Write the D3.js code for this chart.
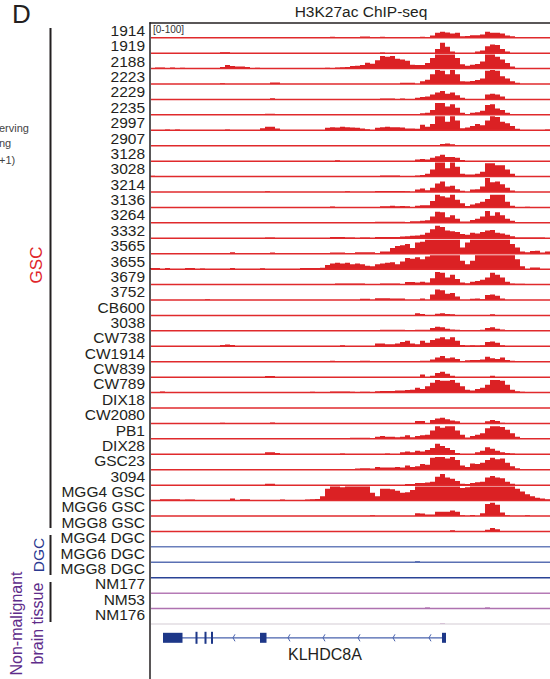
<!DOCTYPE html>
<html>
<head>
<meta charset="utf-8">
<script src="https://cdn.jsdelivr.net/npm/d3@7/dist/d3.min.js"></script>
<style>
body { margin: 0; background: #fff; }
svg { display: block; font-family: "Liberation Sans", Arial, sans-serif; }
</style>
</head>
<body>
<svg width="550" height="679"></svg>
<script>
//Track labels, top to bottom.
var trackLabels = ['1914', '1919', '2188', '2223', '2229', '2235', '2997', '2907', '3128', '3028',
  '3214', '3136', '3264', '3332', '3565', '3655', '3679', '3752', 'CB600', '3038',
  'CW738', 'CW1914', 'CW839', 'CW789', 'DIX18', 'CW2080', 'PB1', 'DIX28', 'GSC23', '3094',
  'MGG4 GSC', 'MGG6 GSC', 'MGG8 GSC', 'MGG4 DGC', 'MGG6 DGC', 'MGG8 DGC', 'NM177', 'NM53', 'NM176'];

//Signal per track, 80 bins across the locus, scale [0-100].
var t1914 = [0,0,0,0,0,0,0,0,0,0, 0,0,0,0,0,0,0,0,0,0, 0,0,0,0,0,0,0,0,0,0, 0,0,0,0,0,0,7,0,0,0,
  0,0,9,9,0,0,7,0,0,0, 0,0,0,0,7,5,15,35,42,38, 30,35,10,12,18,18,22,42,35,35, 30,15,10,0,0,0,0,0,0,0];
var t1919 = [0,0,0,0,0,0,0,0,0,0, 0,0,0,0,7,7,0,0,0,0, 0,0,0,0,0,0,0,0,0,0, 0,0,0,0,0,0,0,0,0,0,
  0,0,0,0,0,0,5,0,0,0, 0,0,0,0,0,0,0,30,75,45, 12,0,0,0,0,12,18,50,62,58, 30,12,0,0,0,0,0,0,0,0];
var t2188 = [0,7,7,0,7,0,5,0,0,0, 0,0,0,0,12,25,18,14,14,12, 0,6,0,0,0,0,0,0,0,0, 0,0,0,0,0,5,0,8,10,12,
  18,20,25,42,35,60,90,85,90,70, 65,55,28,25,25,40,75,100,100,100, 100,75,30,20,28,32,50,100,100,85, 65,40,15,0,0,0,0,0,0,0];
var t2223 = [0,0,0,0,0,0,0,0,0,0, 0,0,0,0,6,0,0,0,0,0, 0,0,0,0,10,10,0,0,0,0, 0,0,0,0,0,0,0,0,0,0,
  0,0,0,0,0,0,0,0,0,0, 8,8,8,0,20,30,70,100,95,70, 100,70,20,18,22,28,40,95,100,95, 55,40,20,8,0,0,0,0,0,0];
var t2229 = [0,0,0,0,0,0,0,0,0,0, 0,0,0,0,0,0,0,0,0,0, 0,0,0,0,8,0,0,0,0,0, 0,0,0,0,0,0,0,0,0,0,
  0,0,0,0,0,0,7,7,7,0, 7,0,0,12,18,20,35,50,60,40, 50,30,12,0,0,0,0,35,40,35, 20,0,0,0,0,0,0,0,0,0];
var t2235 = [0,0,0,0,0,0,0,0,0,0, 0,0,0,0,0,0,0,0,0,0, 0,0,0,8,8,0,0,0,0,0, 0,0,0,0,0,0,0,0,0,0,
  0,0,0,0,0,0,0,0,0,0, 0,0,0,0,12,15,35,85,85,60, 75,50,15,0,15,18,30,70,75,45, 35,15,0,0,0,0,0,0,0,0];
var t2997 = [0,0,0,5,0,5,0,0,0,0, 0,0,0,0,0,5,0,0,0,0, 0,0,15,25,25,12,0,0,0,0, 0,0,0,0,0,18,22,20,25,22,
  20,18,12,8,0,18,22,25,22,22, 20,12,12,10,40,25,45,100,100,60, 100,70,15,20,30,45,35,70,100,95, 60,50,30,10,0,0,0,0,0,6];
var t2907 = [0,0,0,0,0,0,0,0,0,0, 0,0,0,0,0,0,0,0,0,0, 0,0,0,0,0,0,0,0,0,0, 0,0,0,0,0,0,0,0,0,0,
  0,0,0,0,0,0,0,0,0,0, 0,0,0,0,0,0,0,0,12,15, 10,0,0,0,0,0,0,0,0,0, 0,0,0,0,0,0,0,0,0,0];
var t3128 = [0,0,0,0,0,0,0,0,0,0, 0,0,0,0,0,0,0,0,0,0, 0,0,0,0,0,0,0,0,0,0, 0,0,0,0,0,0,0,6,0,0,
  0,0,0,0,0,0,0,0,0,0, 0,0,0,12,15,12,25,35,45,30, 30,25,8,0,0,0,0,0,0,0, 0,0,0,0,0,0,0,0,0,0];
var t3028 = [5,0,0,0,0,0,0,0,0,0, 0,0,0,0,0,0,0,0,0,0, 0,0,0,0,0,0,0,0,0,0, 0,0,0,0,0,0,0,0,0,0,
  0,0,0,0,0,0,8,8,8,8, 0,0,0,8,12,20,50,100,100,60, 100,70,20,15,15,20,35,95,95,80, 80,50,20,0,0,0,0,0,0,0];
var t3214 = [0,0,0,0,0,0,0,0,0,0, 0,0,0,0,0,0,0,0,0,0, 0,0,0,6,0,0,0,0,0,0, 0,0,0,0,0,0,0,0,0,5,
  0,0,0,0,0,7,7,7,7,7, 7,5,0,18,25,12,30,60,75,40, 45,20,8,0,18,20,40,100,70,75, 55,30,10,0,0,0,0,0,0,0];
var t3136 = [0,0,0,0,0,0,0,0,0,0, 0,0,0,0,0,0,0,0,0,0, 0,0,0,0,0,0,0,0,0,0, 0,0,0,0,0,0,6,0,0,0,
  0,0,0,0,0,0,8,8,12,8, 10,8,0,12,15,15,45,90,80,70, 90,55,30,10,20,30,40,60,90,90, 90,40,12,0,0,5,0,0,0,0];
var t3264 = [0,0,0,0,0,0,0,0,0,0, 0,0,0,0,0,0,0,0,0,0, 0,0,0,0,0,0,0,0,0,0, 0,0,0,0,0,0,0,0,6,0,
  0,0,5,0,0,8,8,8,8,8, 8,0,12,12,15,18,45,80,75,40, 55,30,10,10,20,30,45,85,50,75, 55,30,15,5,0,0,0,0,0,0];
var t3332 = [0,0,0,0,0,0,0,0,0,0, 0,0,0,0,0,0,0,0,0,0, 0,0,0,6,6,0,0,0,0,0, 0,0,0,0,0,0,10,10,10,6,
  6,0,6,6,0,10,10,10,10,10, 12,15,18,20,25,40,65,90,80,55, 50,45,30,25,40,35,45,55,60,40, 35,25,15,5,5,5,5,5,5,0];
var t3565 = [0,0,0,0,0,0,0,0,0,0, 0,0,0,0,5,0,10,0,0,0, 0,0,0,0,8,0,0,0,0,0, 0,0,0,0,0,0,8,8,8,0,
  0,10,10,10,10,0,15,15,40,55, 60,70,40,80,85,100,100,100,100,100, 100,100,45,80,100,100,100,100,100,100, 100,100,70,45,15,10,20,22,8,15];
var t3655 = [8,8,0,8,0,0,0,8,8,0, 5,0,0,0,0,0,8,0,0,0, 0,0,6,0,0,0,0,0,0,0, 8,8,8,8,10,30,40,45,40,45,
  35,40,35,25,20,35,40,45,50,35, 55,80,75,85,70,90,100,100,100,100, 100,100,60,35,60,100,100,100,100,100, 100,100,100,70,20,0,12,12,0,0];
var t3679 = [0,0,0,0,0,0,0,0,0,0, 0,0,0,0,0,0,0,0,0,0, 0,0,0,0,0,0,0,0,0,0, 0,0,0,0,0,0,0,8,8,8,
  8,8,8,0,0,0,8,8,8,8, 0,18,18,15,20,15,45,90,85,50, 70,40,15,10,20,25,35,50,85,70, 50,20,8,5,5,0,0,0,0,0];
var t3752 = [0,0,0,0,0,0,0,0,0,0, 0,6,0,0,0,0,0,0,0,0, 0,0,0,0,0,0,0,0,0,0, 0,0,0,0,0,0,0,0,0,0,
  0,0,8,8,0,12,12,12,10,10, 10,0,0,0,10,0,40,75,70,45, 50,25,0,0,8,10,5,35,40,30, 10,0,0,0,0,0,0,0,0,0];
var tCB600 = [0,0,0,0,0,0,0,0,0,0, 0,0,0,0,0,0,0,0,0,0, 0,0,0,0,0,0,0,0,0,0, 0,0,0,0,0,0,0,0,0,0,
  0,0,0,0,0,0,0,0,0,0, 0,0,0,15,10,0,0,12,15,10, 8,0,0,0,0,0,0,0,8,0, 0,0,0,0,0,0,0,0,0,0];
var t3038 = [0,0,0,0,0,0,0,0,0,0, 0,0,0,0,0,0,0,0,0,0, 0,0,0,0,6,0,0,0,0,0, 0,0,0,0,0,0,0,0,0,0,
  0,0,0,0,0,0,8,8,8,8, 8,0,0,8,8,8,20,30,25,15, 10,8,0,0,0,0,8,20,25,15, 10,6,0,0,0,0,0,0,0,0];
var tCW738 = [0,0,0,0,0,0,0,0,0,0, 0,0,0,0,10,12,10,0,0,0, 0,0,0,0,0,0,0,0,0,0, 0,0,0,0,0,0,0,0,8,0,
  0,0,0,0,0,20,20,15,15,20, 30,40,20,15,40,25,45,55,65,50, 65,40,10,5,8,5,8,30,35,25, 8,0,0,0,0,0,0,0,0,0];
var tCW1914 = [0,0,0,0,0,0,0,0,0,0, 0,0,0,0,0,0,0,0,0,0, 0,0,0,0,0,0,0,0,0,0, 0,0,0,0,0,0,6,0,0,0,
  0,0,6,6,0,0,5,0,0,0, 0,0,0,0,6,6,15,30,40,25, 30,20,5,10,12,12,15,35,25,20, 30,12,6,0,0,0,0,0,0,0];
var tCW839 = [0,0,0,0,0,0,0,0,0,0, 0,0,0,0,0,0,0,0,0,0, 0,0,0,8,8,0,0,0,0,0, 0,0,0,0,0,0,0,0,0,0,
  0,0,0,0,0,0,0,0,0,0, 0,0,0,0,18,0,10,30,38,25, 10,0,0,0,0,0,0,0,10,0, 0,0,0,0,0,0,0,0,0,0];
var tCW789 = [0,0,7,0,0,0,0,0,0,0, 0,0,0,0,0,0,0,0,0,0, 0,0,0,0,0,0,0,0,0,0, 0,0,6,0,0,0,8,8,8,8,
  6,0,6,6,0,10,12,12,12,15, 15,18,20,35,25,45,70,90,85,85, 90,70,45,20,15,25,35,55,90,90, 85,55,20,10,5,0,0,0,0,0];
var tDIX18 = [0,0,0,0,0,0,0,0,0,0, 0,0,0,0,0,0,0,0,0,0, 0,0,0,0,0,0,0,0,0,0, 0,0,0,0,0,0,0,0,0,0,
  0,0,0,0,0,0,0,0,0,0, 0,0,0,0,0,0,0,0,0,0, 0,0,0,0,0,0,0,0,0,0, 0,0,0,0,0,0,0,0,0,0];
var tCW2080 = [0,0,0,0,0,0,0,0,0,0, 0,0,0,0,5,0,0,0,0,0, 0,0,0,0,7,0,0,0,0,0, 0,0,0,0,0,0,0,0,0,0,
  0,0,0,0,0,0,0,0,0,0, 0,0,0,18,18,0,25,35,40,30, 20,15,0,0,0,0,0,15,25,18, 5,0,0,0,0,0,0,0,0,0];
var tPB1 = [0,0,0,6,0,0,0,0,0,0, 0,0,0,0,0,0,0,0,0,0, 0,0,0,0,0,0,0,0,0,0, 0,0,0,0,0,0,6,0,6,0,
  8,8,8,8,0,15,20,15,15,12, 15,25,12,20,25,30,60,90,80,90, 90,60,30,10,20,30,40,75,90,90, 85,65,40,15,5,0,0,0,0,0];
var tDIX28 = [0,0,0,0,0,0,0,0,0,0, 0,0,0,0,0,0,0,0,0,0, 0,0,0,15,15,10,0,0,0,0, 0,0,0,0,0,0,0,0,6,0,
  0,0,0,0,0,0,0,5,0,0, 15,20,15,25,20,30,45,75,60,45, 30,10,0,0,0,15,25,50,40,25, 15,10,5,0,0,0,0,0,0,0];
var tGSC23 = [0,0,0,0,0,0,0,0,0,0, 0,0,0,0,0,0,0,0,0,0, 0,0,0,0,0,0,0,0,0,0, 0,0,0,0,0,0,0,0,0,0,
  0,8,10,10,8,20,15,15,15,20, 15,30,20,25,40,35,85,90,90,80, 90,70,30,20,45,40,50,70,85,75, 80,50,25,10,0,0,0,0,0,0];
var t3094 = [0,0,0,0,0,0,0,0,0,0, 0,0,0,0,0,0,0,0,0,0, 0,0,0,10,10,0,0,0,0,0, 0,0,0,0,0,0,0,0,0,0,
  0,0,0,0,0,0,0,0,0,0, 0,8,8,15,15,18,25,60,80,55, 45,30,10,8,15,20,25,55,65,55, 50,25,10,0,0,0,0,0,0,0];
var tMGG4GSC = [0,0,10,10,10,10,6,8,8,0, 0,0,0,0,0,0,15,0,10,10, 0,0,0,0,0,0,8,0,0,0, 0,8,10,12,30,85,100,100,95,100,
  100,100,100,100,55,30,85,85,80,70, 55,60,75,100,100,100,100,100,100,100, 100,100,90,95,100,100,100,100,100,100, 100,100,100,85,65,45,30,20,15,10];
var tMGG6GSC = [0,0,0,0,0,0,0,0,0,0, 0,0,0,0,0,0,0,0,0,0, 0,0,0,0,0,0,0,0,0,0, 0,0,0,0,0,0,0,0,0,0,
  0,0,0,0,6,0,0,0,0,0, 0,0,0,20,18,10,10,30,30,30, 40,30,5,0,8,0,20,85,95,80, 25,5,0,0,0,6,0,0,0,0];
var tMGG8GSC = [0,0,0,0,0,0,0,0,0,0, 0,0,0,0,0,0,0,0,0,0, 0,0,0,0,0,0,0,0,0,0, 0,0,0,0,0,0,0,0,0,0,
  0,0,0,0,0,0,0,0,0,0, 0,0,0,0,0,0,0,0,0,0, 8,0,0,0,0,0,0,12,25,15, 0,0,0,0,0,0,0,0,0,0];
var tMGG4DGC = [0,0,0,0,0,0,0,0,0,0, 0,0,0,0,0,0,0,0,0,0, 0,0,0,0,0,0,0,0,0,0, 0,0,0,0,0,0,0,0,0,0,
  0,0,0,0,0,0,0,0,0,0, 0,0,0,0,0,0,0,0,0,0, 0,0,0,0,0,0,0,0,0,0, 0,0,0,0,0,0,0,0,0,0];
var tMGG6DGC = [0,0,0,0,0,0,0,0,0,0, 0,0,0,0,0,0,0,0,0,0, 0,0,0,0,0,0,0,0,0,0, 0,0,0,0,0,0,0,0,0,0,
  0,0,0,0,0,0,0,0,0,0, 0,0,0,8,0,0,0,0,0,0, 0,0,0,0,0,0,0,0,0,0, 0,0,0,0,0,0,0,0,0,0];
var tMGG8DGC = [0,0,0,0,0,0,0,0,0,0, 0,0,0,0,0,0,0,0,0,0, 0,0,0,0,0,0,0,0,0,0, 0,0,0,0,0,0,0,0,0,0,
  0,0,0,0,0,0,0,0,0,0, 0,0,0,0,0,0,0,0,0,0, 0,0,0,0,0,0,0,0,0,0, 0,0,0,0,0,0,0,0,0,0];
var tNM177 = [0,0,0,0,0,0,0,0,0,0, 0,0,0,0,0,0,0,0,0,0, 0,0,0,0,0,0,0,0,0,0, 0,0,0,0,0,0,0,0,0,0,
  0,0,0,0,0,0,0,0,0,0, 0,0,0,0,0,0,0,0,0,0, 0,0,0,0,0,0,0,0,0,0, 0,0,0,0,0,0,0,0,0,0];
var tNM53 = [0,0,0,0,0,0,0,0,0,0, 0,0,0,0,0,0,0,0,0,0, 0,0,0,0,0,0,0,0,0,0, 0,0,0,0,0,0,0,0,0,0,
  0,0,0,0,0,0,0,0,0,0, 0,0,0,0,0,8,0,0,0,0, 0,0,0,0,0,0,0,8,0,0, 0,0,0,0,0,0,0,0,0,0];
var tNM176 = [0,0,0,0,0,0,0,0,0,0, 0,0,0,0,0,0,0,0,0,0, 0,0,0,0,0,0,0,0,0,0, 0,0,0,0,0,0,0,0,0,0,
  0,0,0,0,0,0,0,0,0,0, 0,0,0,0,0,0,0,0,6,0, 0,0,0,0,0,0,0,0,0,0, 0,0,0,0,0,0,0,0,0,0];

var signals = [t1914, t1919, t2188, t2223, t2229, t2235, t2997, t2907, t3128, t3028,
  t3214, t3136, t3264, t3332, t3565, t3655, t3679, t3752, tCB600, t3038,
  tCW738, tCW1914, tCW839, tCW789, tDIX18, tCW2080, tPB1, tDIX28, tGSC23, t3094,
  tMGG4GSC, tMGG6GSC, tMGG8GSC, tMGG4DGC, tMGG6DGC, tMGG8DGC, tNM177, tNM53, tNM176];

//Group of each track, used for colour.
var trackGroups = ['GSC','GSC','GSC','GSC','GSC','GSC','GSC','GSC','GSC','GSC',
  'GSC','GSC','GSC','GSC','GSC','GSC','GSC','GSC','GSC','GSC',
  'GSC','GSC','GSC','GSC','GSC','GSC','GSC','GSC','GSC','GSC',
  'GSC','GSC','GSC','DGC1','DGC2','DGC3','NM1','NM2','NM3'];

//Gene model (KLHDC8A, minus strand), in bin units.
var geneSpan = [2.6, 59.2];
var geneExons = [[2.6, 6.5], [9.1, 9.5], [10.9, 11.3], [12.2, 12.6], [22.0, 23.3], [58.4, 59.2]];
var geneChevrons = [16.6, 27.6, 34.6, 41.6, 48.6, 55.8];

var svg = d3.select('svg');
var nBins = 80, nTracks = trackLabels.length;

var fillColor = {GSC: '#db2124', DGC1: '#3c56a6', DGC2: '#2a4699', DGC3: '#1f3990', NM1: '#a0509f', NM2: '#9d4d9c', NM3: '#9d4d9c'};
var baseColor = {GSC: '#e02a2c', DGC1: '#6a7fbb', DGC2: '#5a70b3', DGC3: '#2a4396', NM1: '#b57ab6', NM2: '#ae72b0', NM3: '#e2dde2'};

//Scales.
var xScale = d3.scaleLinear().domain([0, nBins]).range([150, 550]);
var baseScale = d3.scaleLinear().domain([0, nTracks - 1]).range([37.7, 624]);
var labelScale = d3.scaleLinear().domain([0, nTracks - 1]).range([36, 620]);
var hScale = d3.scaleLinear().domain([0, 100]).range([0, 14]).clamp(true);

var area = d3.area()
  .curve(d3.curveStepAfter)
  .x(function(d, i) { return xScale(i); })
  .y0(0)
  .y1(function(d) { return -hScale(d); });

//Tracks.
var tracks = svg.append('g').selectAll('g')
  .data(signals)
  .join('g')
  .attr('transform', function(d, i) { return 'translate(0,' + baseScale(i) + ')'; });

tracks.append('path')
  .attr('d', function(d) { return area(d.concat([d[d.length - 1]])); })
  .style('fill', function(d, i) { return fillColor[trackGroups[i]]; });

tracks.append('line')
  .attr('x1', 151).attr('x2', 550)
  .attr('y1', 0).attr('y2', 0)
  .style('stroke', function(d, i) { return baseColor[trackGroups[i]]; })
  .style('stroke-width', 1.5);

//Track labels.
svg.append('g').selectAll('text')
  .data(trackLabels)
  .join('text')
  .attr('x', 145)
  .attr('y', function(d, i) { return labelScale(i); })
  .attr('text-anchor', 'end')
  .style('font-size', '15.5px')
  .style('fill', '#231f20')
  .text(function(d) { return d; });

//Frame: top rule and left rule.
svg.append('line').attr('x1', 149.5).attr('x2', 550).attr('y1', 23).attr('y2', 23)
  .style('stroke', '#231f20').style('stroke-width', 1.5);
svg.append('line').attr('x1', 150).attr('x2', 150).attr('y1', 22.3).attr('y2', 679)
  .style('stroke', '#231f20').style('stroke-width', 1.5);

svg.append('text').attr('x', 153).attr('y', 33).text('[0-100]')
  .style('font-size', '10px').style('fill', '#333');

//Title and panel letter.
svg.append('text').attr('x', 361).attr('y', 17).attr('text-anchor', 'middle')
  .text('H3K27ac ChIP-seq').style('font-size', '15.5px').style('fill', '#231f20');
svg.append('text').attr('x', 12).attr('y', 23).text('D')
  .style('font-size', '26px').style('fill', '#231f20');

//Fragments of the neighbouring panel.
svg.append('text').attr('x', -1).attr('y', 132).text('erving').style('font-size', '11px').style('fill', '#444');
svg.append('text').attr('x', -1).attr('y', 147).text('ng').style('font-size', '11px').style('fill', '#444');
svg.append('text').attr('x', -1).attr('y', 164).text('+1)').style('font-size', '11px').style('fill', '#444');

//Group brackets and names.
var brackets = [
  {y1: 28, y2: 528, name: ['GSC'], color: '#e0262b', x: [41.5], size: 17},
  {y1: 535, y2: 575, name: ['DGC'], color: '#2b3990', x: [43.5], size: 15.5},
  {y1: 582, y2: 622, name: ['Non-malignant', 'brain tissue'], color: '#5e2c8a', x: [21.5, 43.3], size: 16}
];
brackets.forEach(function(b) {
  svg.append('line').attr('x1', 50.5).attr('x2', 50.5).attr('y1', b.y1).attr('y2', b.y2)
    .style('stroke', '#231f20').style('stroke-width', 2);
  var cy = b.name.length > 1 ? 623.5 : (b.y1 + b.y2) / 2;
  if (b.name[0] === 'GSC') cy = 265;
  b.name.forEach(function(t, k) {
    svg.append('text')
      .attr('transform', 'translate(' + b.x[k] + ',' + cy + ') rotate(-90)')
      .attr('text-anchor', 'middle')
      .style('font-size', b.size + 'px')
      .style('fill', b.color)
      .text(t);
  });
});

//Gene track.
var geneY = 637.8;
var gene = svg.append('g');
gene.append('line')
  .attr('x1', xScale(geneSpan[0])).attr('x2', xScale(geneSpan[1]))
  .attr('y1', geneY).attr('y2', geneY)
  .style('stroke', '#4862ad').style('stroke-width', 1.2);
gene.selectAll('path.chev')
  .data(geneChevrons)
  .join('path')
  .attr('class', 'chev')
  .attr('d', function(d) { var x = xScale(d); return 'M' + (x + 2) + ',' + (geneY - 3.5) + 'L' + x + ',' + geneY + 'L' + (x + 2) + ',' + (geneY + 3.5); })
  .style('fill', 'none').style('stroke', '#4862ad').style('stroke-width', 1);
gene.selectAll('rect')
  .data(geneExons)
  .join('rect')
  .attr('x', function(d) { return xScale(d[0]); })
  .attr('width', function(d) { return xScale(d[1]) - xScale(d[0]); })
  .attr('y', function(d, i) { return (i >= 1 && i <= 3) ? geneY - 6 : geneY - 5; })
  .attr('height', function(d, i) { return (i >= 1 && i <= 3) ? 12 : 10; })
  .style('fill', '#1d3788');
gene.append('text').attr('x', 288).attr('y', 660).text('KLHDC8A')
  .style('font-size', '16px').style('fill', '#231f20');
</script>
</body>
</html>
